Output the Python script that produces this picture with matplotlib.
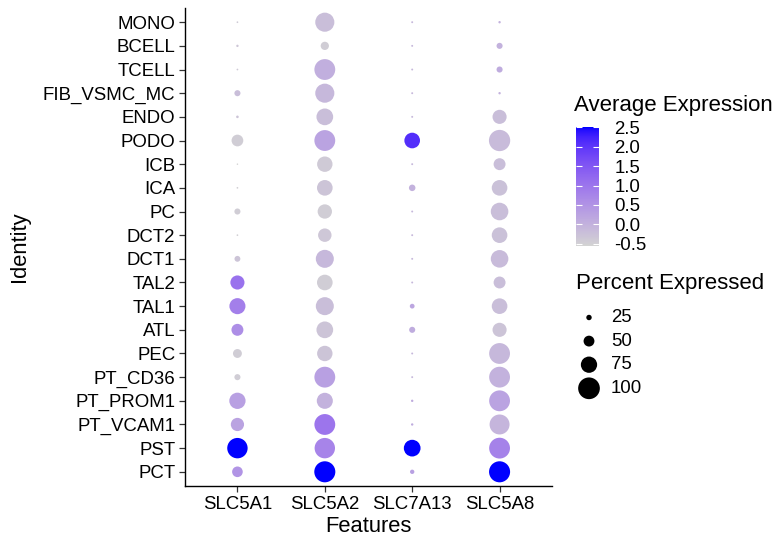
import matplotlib
matplotlib.use("Agg")
import matplotlib.pyplot as plt
import numpy as np
from matplotlib.colors import ListedColormap, Normalize
from matplotlib.colorbar import ColorbarBase

plt.rcParams["font.family"] = ["Liberation Sans", "DejaVu Sans"]

# cell types, bottom row first
identities = ["PCT", "PST", "PT_VCAM1", "PT_PROM1", "PT_CD36", "PEC", "ATL", "TAL1",
              "TAL2", "DCT1", "DCT2", "PC", "ICA", "ICB", "PODO", "ENDO",
              "FIB_VSMC_MC", "TCELL", "BCELL", "MONO"]
features = ["SLC5A1", "SLC5A2", "SLC7A13", "SLC5A8"]

# percent of cells expressing each gene (same row order as identities)
pct_slc5a1 = [49, 94, 61, 75, 28, 41, 55, 74, 65, 27, 8, 28, 8, 7, 54, 12, 28, 8, 11, 8]
pct_slc5a2 = [97, 94, 96, 74, 96, 71, 77, 83, 72, 83, 62, 66, 72, 71, 96, 77, 88, 96, 38, 88]
pct_slc7a13 = [20, 77, 11, 11, 9, 9, 28, 22, 9, 9, 9, 9, 30, 9, 72, 9, 9, 9, 9, 9]
pct_slc5a8 = [97, 96, 92, 96, 96, 96, 65, 72, 55, 81, 72, 81, 72, 55, 98, 65, 11, 28, 28, 11]

# scaled average expression
exp_slc5a1 = [0.5, 2.5, 0.25, 0.3, -0.45, -0.45, 0.6, 0.85, 1.05, -0.3, -0.5, -0.45, -0.5,
              -0.55, -0.45, -0.3, -0.2, -0.4, -0.35, -0.4]
exp_slc5a2 = [2.5, 0.75, 1.0, 0.0, 0.3, -0.3, -0.3, -0.2, -0.45, -0.1, -0.35, -0.45, -0.3,
              -0.4, 0.25, -0.2, -0.1, 0.05, -0.45, -0.2]
exp_slc7a13 = [0.3, 2.5, 0.1, 0.1, -0.1, -0.1, 0.1, 0.2, -0.1, -0.1, -0.1, -0.1, 0.0,
               -0.1, 2.1, -0.1, -0.1, -0.1, -0.1, -0.1]
exp_slc5a8 = [2.5, 0.8, -0.05, 0.25, 0.0, -0.1, -0.3, -0.2, -0.2, -0.15, -0.25, -0.2, -0.25,
              -0.2, -0.15, -0.2, 0.0, 0.1, 0.0, 0.0]

pct_all = [pct_slc5a1, pct_slc5a2, pct_slc7a13, pct_slc5a8]
exp_all = [exp_slc5a1, exp_slc5a2, exp_slc7a13, exp_slc5a8]

legend_pcts = [25, 50, 75, 100]
cbar_ticks = [-0.5, 0.0, 0.5, 1.0, 1.5, 2.0, 2.5]


# lightgrey -> blue gradient interpolated in CIE Lab
def srgb_to_lab(rgb):
    rgb = np.asarray(rgb, float)
    lin = np.where(rgb <= 0.04045, rgb / 12.92, ((rgb + 0.055) / 1.055) ** 2.4)
    m = np.array([[0.4124, 0.3576, 0.1805], [0.2126, 0.7152, 0.0722], [0.0193, 0.1192, 0.9505]])
    xyz = m @ lin / np.array([0.95047, 1.0, 1.08883])
    f = np.where(xyz > 0.008856, np.cbrt(xyz), 7.787 * xyz + 16 / 116)
    return np.array([116 * f[1] - 16, 500 * (f[0] - f[1]), 200 * (f[1] - f[2])])


def lab_to_srgb(lab):
    L, a, b = lab
    fy = (L + 16) / 116
    fx = fy + a / 500
    fz = fy - b / 200
    f = np.array([fx, fy, fz])
    xyz = np.where(f ** 3 > 0.008856, f ** 3, (f - 16 / 116) / 7.787) * np.array([0.95047, 1.0, 1.08883])
    minv = np.array([[3.2406, -1.5372, -0.4986], [-0.9689, 1.8758, 0.0415], [0.0557, -0.2040, 1.0570]])
    lin = minv @ xyz
    rgb = np.where(lin <= 0.0031308, 12.92 * lin, 1.055 * np.clip(lin, 0, None) ** (1 / 2.4) - 0.055)
    return np.clip(rgb, 0, 1)


lo = srgb_to_lab([211 / 255, 211 / 255, 211 / 255])
hi = srgb_to_lab([0, 0, 1])
cmap = ListedColormap([lab_to_srgb(lo + t * (hi - lo)) for t in np.linspace(0, 1, 256)])

vmin = min(min(e) for e in exp_all)
vmax = max(max(e) for e in exp_all)
norm = Normalize(vmin=vmin, vmax=vmax)

DPI = 100
W, H = 778, 542
max_diam_px = 21.7  # dot diameter at 100 %


def dot_size(p):
    d_pt = np.asarray(p, float) / 100 * max_diam_px * 72 / DPI
    return d_pt ** 2


fig = plt.figure(figsize=(W / DPI, H / DPI), dpi=DPI)
ax = fig.add_axes([185 / W, 1 - 486 / H, 367 / W, 478 / H])

ypos = np.arange(1, len(identities) + 1)
for i, (p, e) in enumerate(zip(pct_all, exp_all)):
    ax.scatter(np.full(len(identities), i + 1), ypos, s=dot_size(p), c=e, cmap=cmap,
               norm=norm, linewidths=0, zorder=3)

ax.set_xlim(0.4, len(features) + 0.6)
ax.set_ylim(0.4, len(identities) + 0.6)
ax.set_xticks(range(1, len(features) + 1))
ax.set_xticklabels(features)
ax.set_yticks(ypos)
ax.set_yticklabels(identities)
ax.tick_params(labelsize=13.4, length=4.5, width=0.9, color="#333333", pad=2.5)
for side in ["top", "right"]:
    ax.spines[side].set_visible(False)
for side in ["left", "bottom"]:
    ax.spines[side].set_linewidth(1.0)
ax.set_xlabel("Features", fontsize=15.8, labelpad=2)
ax.set_ylabel("Identity", fontsize=15.8, labelpad=9)

# colour legend
fig.text(574 / W, 1 - 105 / H, "Average Expression", fontsize=16, va="center", ha="left")
top_px = 127.2
bot_px = top_px + (vmax - vmin) * 38.9
cax = fig.add_axes([576 / W, 1 - bot_px / H, 23 / W, (bot_px - top_px) / H])
cb = ColorbarBase(cax, cmap=cmap, norm=norm, orientation="vertical", ticks=cbar_ticks)
cb.outline.set_visible(False)
cb.ax.set_yticklabels([f"{t:.1f}" for t in cbar_ticks])
cax.tick_params(axis="y", which="both", direction="in", left=True, right=True,
                color="white", length=4.5, width=0.8, labelsize=13.4, pad=11)

# size legend
fig.text(576 / W, 1 - 283 / H, "Percent Expressed", fontsize=16, va="center", ha="left")
lax = fig.add_axes([0, 0, 1, 1])
lax.set_xlim(0, W)
lax.set_ylim(H, 0)
lax.axis("off")
leg_y = 317.5 + 23.6 * np.arange(len(legend_pcts))
lax.scatter(np.full(len(legend_pcts), 589), leg_y, s=dot_size(legend_pcts), color="black",
            linewidths=0)
for yy, p in zip(leg_y, legend_pcts):
    lax.text(611, yy, str(p), fontsize=13.4, va="center", ha="left")

fig.savefig("out.png", dpi=DPI)
